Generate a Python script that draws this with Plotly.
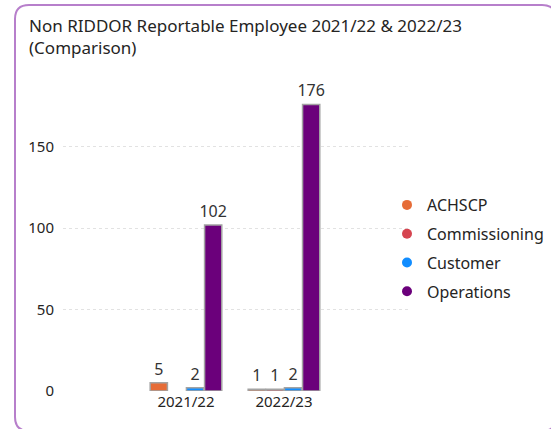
import plotly.graph_objects as go

categories = ["2021/22", "2022/23"]
series_names = ["ACHSCP", "Commissioning", "Customer", "Operations"]
achscp = [5, 1]
commissioning = [None, 1]
customer = [2, 2]
operations = [102, 176]
series_values = [achscp, commissioning, customer, operations]
colors = ["#E66C37", "#D64550", "#118DFF", "#6B007B"]
y_ticks = [0, 50, 100, 150]

W, H = 551, 429
L, R, T, B = 63, 141, 80, 38
pw, ph = W - L - R, H - T - B

def px(x):
    return (x - L) / pw

def py(y):
    return (H - B - y) / ph

font = "Noto Sans, Open Sans, sans-serif"
fig = go.Figure()
for name, vals, c in zip(series_names, series_values, colors):
    fig.add_trace(go.Bar(
        x=categories, y=vals, name=name, marker=dict(color=c, line=dict(color="#A3A3A3", width=1.5)),
        text=[("" if v is None else str(v)) for v in vals], textposition="outside", constraintext="none",
        textfont=dict(size=16, color="#333333", family=font), cliponaxis=False, showlegend=False,
    ))
for i, (name, c) in enumerate(zip(series_names, colors)):
    fig.add_trace(go.Scatter(x=[None], y=[None], mode="markers", name=name, legendgroup=f"g{i}",
                             marker=dict(color=c, size=10, symbol="circle")))

# rounded border
x0, x1, y0, y1, r = px(15), px(556), py(5), py(431), 14
rx, ry = r / pw, r / ph
path = (f"M {x0+rx},{y0} L {x1-rx},{y0} Q {x1},{y0} {x1},{y0-ry} L {x1},{y1+ry} Q {x1},{y1} {x1-rx},{y1} "
        f"L {x0+rx},{y1} Q {x0},{y1} {x0},{y1+ry} L {x0},{y0-ry} Q {x0},{y0} {x0+rx},{y0} Z")
fig.add_shape(type="path", path=path, xref="paper", yref="paper", line=dict(color="#B77FCB", width=2))

fig.add_annotation(text="Non RIDDOR Reportable Employee 2021/22 &amp; 2022/23<br>(Comparison)",
                   xref="paper", yref="paper", x=px(27), y=py(12), xanchor="left", yanchor="top",
                   align="left", showarrow=False,
                   font=dict(size=17, color="#252423", family=font))

fig.update_layout(
    width=W, height=H, margin=dict(l=L, r=R, t=T, b=B, autoexpand=False),
    paper_bgcolor="white", plot_bgcolor="white",
    barmode="group", bargap=0.26, bargroupgap=0.05,
    font=dict(family=font),
    xaxis=dict(range=[-1.255, 2.286], showgrid=False, zeroline=False, showline=False,
               tickfont=dict(size=15, color="#252423"), ticks=""),
    yaxis=dict(range=[0, 191], tickvals=y_ticks, showgrid=True, gridcolor="#E2E2E2", griddash="dot",
               zeroline=False, showline=False, tickfont=dict(size=15, color="#252423"), ticklabelstandoff=8),
    legend=dict(x=px(387), y=py(188), xanchor="left", yanchor="top", font=dict(size=16, color="#252423"),
                itemwidth=30, tracegroupgap=5, bgcolor="rgba(0,0,0,0)"),
)
fig.write_html("out.html", config={"displayModeBar": False},
               post_script="document.body.style.margin='0';document.body.style.overflow='hidden';")
